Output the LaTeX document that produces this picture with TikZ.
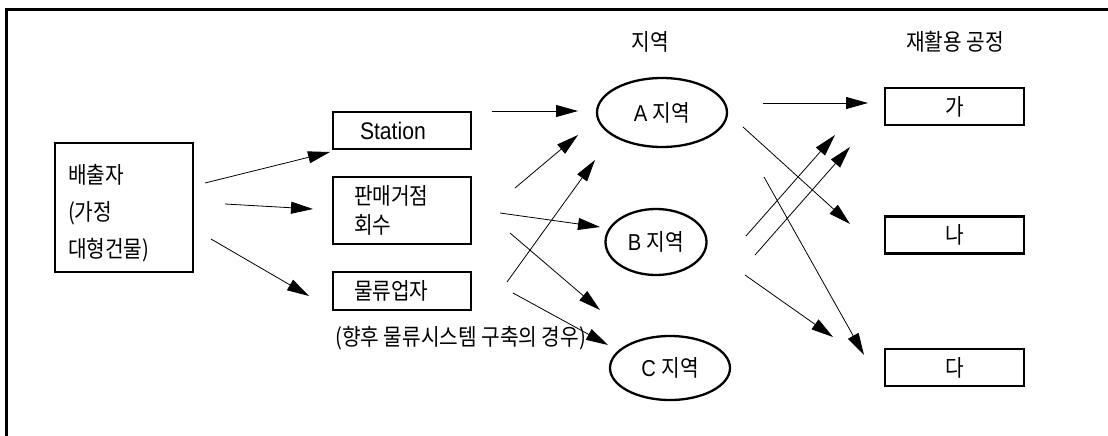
\documentclass[tikz,border=0pt]{standalone}
\usepackage{fontspec}
\setmainfont{Liberation Sans}[FakeStretch=0.88]
\newfontfamily\kr{Noto Sans CJK KR}[FakeStretch=0.88]
\usetikzlibrary{arrows.meta,shapes.geometric}
\newcommand\kfs{\kr\fontsize{23}{26}\selectfont}
\begin{document}
\begin{tikzpicture}[x=1pt,y=-1pt,
  box/.style={draw,line width=2.4pt,rectangle,inner sep=0pt,minimum width=138pt},
  reg/.style={draw,line width=2.3pt,ellipse,inner sep=0pt,font=\fontsize{23}{26}\selectfont},
  arr/.style={line width=0.8pt,-{Triangle[length=22pt,width=12pt]}},
  kfont/.style={font=\kfs}
]
\useasboundingbox (0,0) rectangle (1108,436);
\draw[line width=3pt] (6,436) -- (6,9.5) -- (1108,9.5);

% left column
\node[box, minimum height=129pt, text width=112pt, inner xsep=13pt, align=left,
      font=\kr\fontsize{23}{37}\selectfont] (src) at (124,207.5) {\rule{0pt}{30pt}배출자\\(가정\\대형건물)};
\node[box, minimum height=37pt, text width=84pt, inner xsep=27pt, align=left,
      font=\fontsize{24}{26}\selectfont] (st) at (402,130.5) {Station};
\node[box, minimum height=67pt, text width=96pt, inner xsep=21pt, align=left,
      font=\kr\fontsize{23}{29}\selectfont] (pm) at (402,210.5) {판매거점\\회수};
\node[box, minimum height=38pt, text width=96pt, inner xsep=21pt, align=left,
      kfont] (ml) at (402,291) {물류업자};
\node[kfont, anchor=west, inner sep=0pt] (cap) at (335,338) {(향후 물류시스템 구축의 경우)};

% headers
\node[kfont, inner sep=0pt] (h1) at (650,42) {지역};
\node[kfont, inner sep=0pt] (h2) at (955,42) {재활용 공정};

% regions
\node[reg, minimum width=130pt, minimum height=69pt] (A) at (662,112.5) {A {\kfs 지역}};
\node[reg, minimum width=101pt, minimum height=66pt] (B) at (656,242) {B {\kfs 지역}};
\node[reg, minimum width=120pt, minimum height=64pt] (C) at (670,368) {C {\kfs 지역}};

% recycling plants
\node[box, minimum width=139pt, minimum height=37pt, kfont] (ga) at (954.5,106.5) {가};
\node[box, minimum width=139pt, minimum height=37pt, kfont] (na) at (954.5,235) {나};
\node[box, minimum width=139pt, minimum height=37pt, kfont] (da) at (954.5,367.5) {다};

% arrow ends
\coordinate (a1s) at (205,183); \coordinate (a1e) at (330,152);
\coordinate (a2s) at (225,204); \coordinate (a2e) at (313,209);
\coordinate (a3s) at (211,239); \coordinate (a3e) at (309,296);
\coordinate (a4s) at (492,111); \coordinate (a4e) at (578,111);
\coordinate (a5s) at (515,188); \coordinate (a5e) at (578,135);
\coordinate (a6s) at (507,282); \coordinate (a6e) at (595,160);
\coordinate (a7s) at (500,213); \coordinate (a7e) at (600,227);
\coordinate (a8s) at (510,233); \coordinate (a8e) at (600,310);
\coordinate (a9s) at (513,293); \coordinate (a9e) at (608,345);
\coordinate (b1s) at (763,103); \coordinate (b1e) at (868,103);
\coordinate (b2s) at (743,127); \coordinate (b2e) at (850,224);
\coordinate (b3s) at (764,177); \coordinate (b3e) at (864,355);
\coordinate (b4s) at (746,236); \coordinate (b4e) at (835,135);
\coordinate (b5s) at (755,255); \coordinate (b5e) at (850,147);
\coordinate (b6s) at (745,275); \coordinate (b6e) at (833,337);

\foreach \n in {a1,a2,a3,a4,a5,a6,a7,a8,a9,b1,b2,b3,b4,b5,b6}
  \draw[arr] (\n s) -- (\n e);
\end{tikzpicture}
\end{document}
